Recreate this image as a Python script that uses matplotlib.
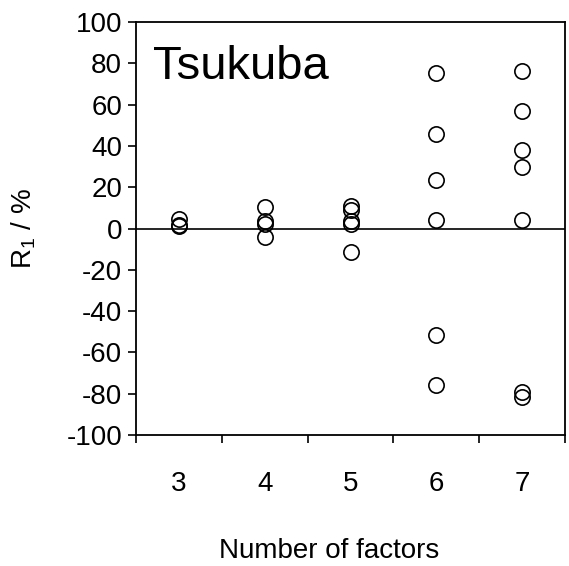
import matplotlib
matplotlib.use('Agg')
import matplotlib.pyplot as plt
from matplotlib.ticker import FixedLocator, NullFormatter

plt.rcParams['font.family'] = ['Liberation Sans', 'DejaVu Sans']
plt.rcParams['mathtext.fontset'] = 'custom'
plt.rcParams['mathtext.rm'] = 'Liberation Sans'

# values, one list per number of factors
factors = [3, 4, 5, 6, 7]
r1_3 = [4.5, 1.5, 1.0]
r1_4 = [10.5, 3.5, 2.0, -4.0]
r1_5 = [11.0, 9.0, 3.5, 2.0, -11.5]
r1_6 = [75.5, 46.0, 23.7, 3.9, -51.5, -76.0]
r1_7 = [76.5, 57.0, 38.0, 30.0, 4.0, -79.0, -81.5]
groups = [r1_3, r1_4, r1_5, r1_6, r1_7]
yticks = list(range(-100, 101, 20))

fig = plt.figure(figsize=(5.69, 5.66), dpi=100)
ax = fig.add_axes([0.239, 0.2314, 0.754, 0.7297])

for f, vals in zip(factors, groups):
    ax.plot([f] * len(vals), vals, 'o', ms=11, mfc='none', mec='black', mew=1.2)

ax.axhline(0, color='black', lw=1.2)

ax.set_xlim(factors[0] - 0.5, factors[-1] + 0.5)
ax.set_ylim(-100, 100)
ax.set_yticks(yticks)
ax.set_yticklabels([str(v) for v in yticks])

ax.set_xticks(factors)
ax.set_xticklabels([str(f) for f in factors])
ax.xaxis.set_minor_locator(FixedLocator([f + 0.5 for f in [factors[0] - 1] + factors]))
ax.xaxis.set_minor_formatter(NullFormatter())
ax.tick_params(axis='x', which='major', length=0, pad=26, labelsize=20)
ax.tick_params(axis='x', which='minor', direction='out', length=6, width=1.2)
ax.tick_params(axis='y', direction='out', length=6, width=1.2, pad=4, labelsize=20)

for s in ax.spines.values():
    s.set_linewidth(1.3)

ax.set_xlabel('Number of factors', fontsize=20)
ax.xaxis.set_label_coords(0.45, -0.25)
ax.set_ylabel(r'R$_\mathregular{1}$ / %', fontsize=20)
ax.yaxis.set_label_coords(-0.228, 0.5)

ax.text(0.04, 0.89, 'Tsukuba', transform=ax.transAxes, fontsize=34,
        ha='left', va='center')

fig.savefig('out.png', dpi=100)
